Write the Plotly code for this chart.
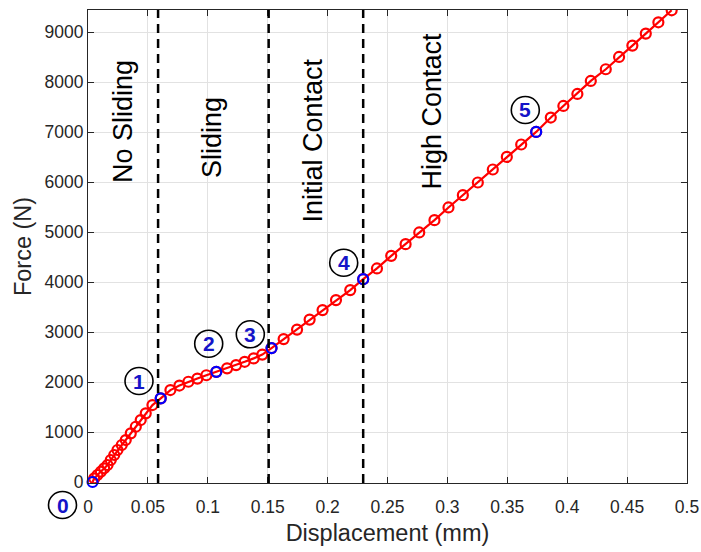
import plotly.graph_objects as go

# ---------------- data ----------------
displacement_mm = [
    0.0038, 0.0052, 0.0079, 0.0107, 0.0135, 0.0163, 0.0190, 0.0219, 0.0246, 0.0282,
    0.0315, 0.0357, 0.0399, 0.0440, 0.0482, 0.0538, 0.0607,
    0.0688, 0.0763, 0.0838, 0.0913, 0.0988, 0.1071,
    0.1161, 0.1236, 0.1308, 0.1383, 0.1455, 0.1532,
    0.1633, 0.1745, 0.1850, 0.1958, 0.2070, 0.2189, 0.2297,
    0.2412, 0.2531, 0.2651, 0.2765, 0.2892, 0.3009, 0.3129, 0.3254, 0.3379, 0.3496,
    0.3616, 0.3741,
    0.3863, 0.3968, 0.4085, 0.4197, 0.4322, 0.4433, 0.4544, 0.4656, 0.4761, 0.4872,
]
force_N = [
    0, 74, 140, 206, 274, 340, 440, 540, 640, 740,
    840, 974, 1106, 1240, 1374, 1540, 1674,
    1840, 1930, 2006, 2070, 2136, 2204,
    2274, 2340, 2406, 2474, 2550, 2680,
    2860, 3050, 3250, 3440, 3640, 3840, 4060,
    4274, 4526, 4760, 4994, 5240, 5494, 5740, 5994, 6254, 6506,
    6754, 7006,
    7294, 7526, 7766, 8026, 8260, 8506, 8734, 8974, 9200, 9440,
]
key_point_index = [0, 16, 22, 28, 35, 47]
key_point_labels = ["0", "1", "2", "3", "4", "5"]

region_boundaries = [0.0585, 0.1508, 0.2297]
region_names = ["No Sliding", "Sliding", "Initial Contact", "High Contact"]

x_ticks = [0, 0.05, 0.1, 0.15, 0.2, 0.25, 0.3, 0.35, 0.4, 0.45, 0.5]
x_tick_text = ["0", "0.05", "0.1", "0.15", "0.2", "0.25", "0.3", "0.35", "0.4", "0.45", "0.5"]
y_ticks = [0, 1000, 2000, 3000, 4000, 5000, 6000, 7000, 8000, 9000]

# ---------------- layout constants ----------------
W, H = 701, 552
ML, MR, MT, MB = 88, 14, 10, 69
PW, PH = W - ML - MR, H - MT - MB
FONT = "Arial, 'Liberation Sans', Helvetica, sans-serif"
AXC = "#262626"

def px_to_paper(px, py):
    return (px - ML) / PW, (H - MB - py) / PH

# label placement (pixel centres) for region texts and circled numbers
region_label_pos = [(123, 122), (212, 138), (312.5, 141), (431.5, 111)]
circle_label_pos = [(62.5, 505), (139, 381), (208.7, 343.7), (250.3, 334.3), (343.7, 262.7), (525.3, 110)]

fig = go.Figure()
fig.add_trace(go.Scatter(
    x=displacement_mm, y=force_N, mode="lines+markers",
    line=dict(color="red", width=2.2),
    marker=dict(symbol="circle-open", size=10, color="red", line=dict(width=2.2, color="red")),
    showlegend=False, hoverinfo="x+y",
))
fig.add_trace(go.Scatter(
    x=[displacement_mm[i] for i in key_point_index],
    y=[force_N[i] for i in key_point_index],
    mode="markers",
    marker=dict(symbol="circle-open", size=10, color="blue", line=dict(width=2.2, color="blue")),
    showlegend=False, cliponaxis=False,
))

shapes = []
for xb in region_boundaries:
    shapes.append(dict(type="line", xref="x", yref="paper", x0=xb, x1=xb, y0=0, y1=1,
                       line=dict(color="black", width=2.5, dash="9px,6px"), layer="above"))

annotations = []
for name, (px, py) in zip(region_names, region_label_pos):
    xp, yp = px_to_paper(px, py)
    annotations.append(dict(text=name, xref="paper", yref="paper", x=xp, y=yp,
                            showarrow=False, textangle=-90, xanchor="center", yanchor="middle",
                            font=dict(family=FONT, size=27, color="black")))

cw, ch = 28, 27
for lab, (px, py) in zip(key_point_labels, circle_label_pos):
    x0, y0 = px_to_paper(px - cw / 2, py + ch / 2)
    x1, y1 = px_to_paper(px + cw / 2, py - ch / 2)
    shapes.append(dict(type="circle", xref="paper", yref="paper", x0=x0, x1=x1, y0=y0, y1=y1,
                       line=dict(color="black", width=1.6), layer="above"))
    xp, yp = px_to_paper(px, py)
    annotations.append(dict(text="<b>" + lab + "</b>", xref="paper", yref="paper", x=xp, y=yp,
                            showarrow=False, xanchor="center", yanchor="middle",
                            font=dict(family=FONT, size=21, color="#1414c8")))

axis_common = dict(
    showline=True, linecolor=AXC, linewidth=1, mirror="ticks",
    ticks="inside", ticklen=6, tickcolor=AXC, tickwidth=1,
    showgrid=True, gridcolor="#e2e2e2", gridwidth=1, zeroline=False,
    tickfont=dict(family=FONT, size=17.5, color=AXC), automargin=False,
)

fig.update_layout(
    width=W, height=H,
    margin=dict(l=ML, r=MR, t=MT, b=MB, pad=0),
    paper_bgcolor="white", plot_bgcolor="white",
    shapes=shapes, annotations=annotations,
    xaxis=dict(range=[0, 0.5], tickvals=x_ticks, ticktext=x_tick_text, ticklabelstandoff=8,
               title=dict(text="Displacement (mm)", font=dict(family=FONT, size=23.5, color=AXC), standoff=8),
               **axis_common),
    yaxis=dict(range=[-20, 9446], tickvals=y_ticks,
               title=dict(text="Force (N)", font=dict(family=FONT, size=23.5, color=AXC), standoff=6),
               **axis_common),
)

fig.write_html(
    "out.html",
    config={"displayModeBar": False},
    post_script="document.body.style.margin='0';document.body.style.padding='0';document.body.style.overflow='hidden';",
)
